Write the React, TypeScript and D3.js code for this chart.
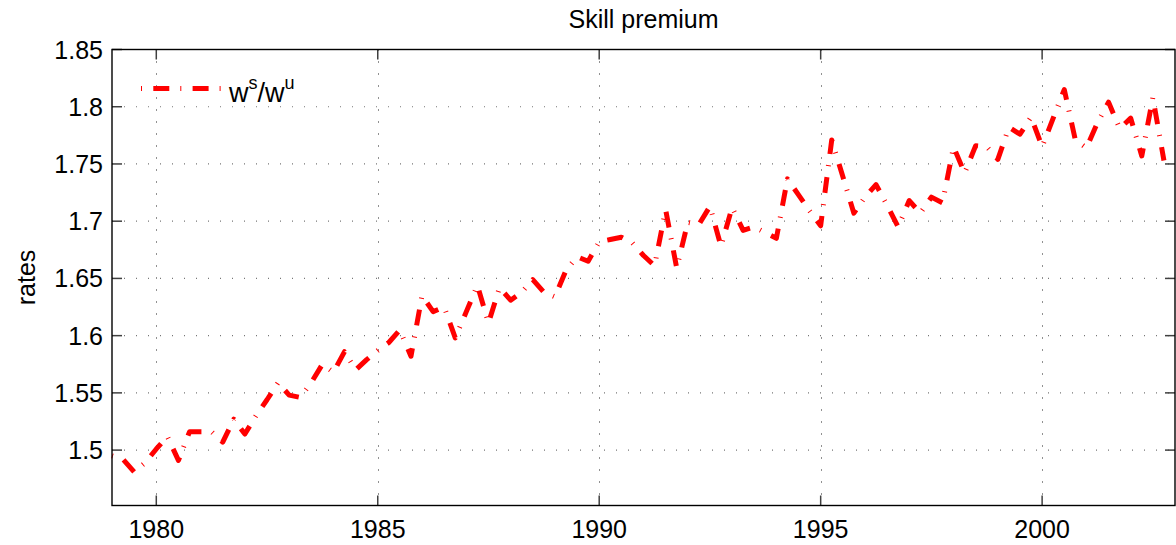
import React from "react";
import * as d3 from "d3";

// quarterly observations, 1979Q1 .. 2002Q4
const startYear = 1979;
const premium = [
	1.495, 1.492, 1.481, 1.489, 1.501, 1.512, 1.491, 1.516,
	1.516, 1.516, 1.507, 1.527, 1.514, 1.530, 1.544, 1.559,
	1.548, 1.546, 1.559, 1.575, 1.568, 1.586, 1.570, 1.579,
	1.587, 1.594, 1.605, 1.582, 1.635, 1.621, 1.625, 1.598,
	1.621, 1.644, 1.611, 1.642, 1.631, 1.638, 1.649, 1.638,
	1.634, 1.657, 1.669, 1.665, 1.682, 1.684, 1.686, 1.681,
	1.670, 1.661, 1.710, 1.659, 1.699, 1.697, 1.713, 1.678,
	1.712, 1.692, 1.695, 1.690, 1.685, 1.737, 1.723, 1.709,
	1.696, 1.771, 1.739, 1.707, 1.721, 1.732, 1.714, 1.695,
	1.718, 1.707, 1.721, 1.716, 1.765, 1.742, 1.766, 1.765,
	1.754, 1.782, 1.776, 1.791, 1.765, 1.790, 1.815, 1.771,
	1.764, 1.786, 1.804, 1.781, 1.790, 1.757, 1.808, 1.753,
];
const xTicks = [1980, 1985, 1990, 1995, 2000];
const yTicks = [1.5, 1.55, 1.6, 1.65, 1.7, 1.75, 1.8, 1.85];
const yTickLabels = ["1.5", "1.55", "1.6", "1.65", "1.7", "1.75", "1.8", "1.85"];

const W = 1176;
const H = 545;
const plot = { left: 112, right: 1175, top: 49.5, bottom: 505.5 };
const font = "'Liberation Sans', Arial, Helvetica, sans-serif";
const dash = "1 11.3 16 11";

export default function App() {
	// bottom limit sits just under 1.45, so no label is drawn there
	const x = d3.scaleLinear().domain([1979, 2003]).range([plot.left, plot.right]);
	const y = d3.scaleLinear().domain([1.4516, 1.85]).range([plot.bottom, plot.top]);

	const points = premium.map((v, i) => [startYear + i / 4, v] as [number, number]);
	const line = d3
		.line<[number, number]>()
		.x((d) => x(d[0]))
		.y((d) => y(d[1]));

	const tickLen = 10;

	return (
		<svg
			width={W}
			height={H}
			style={{ position: "absolute", left: 0, top: 0, background: "#fff" }}
			fontFamily={font}
		>
			<rect x={0} y={0} width={W} height={H} fill="#fff" />

			{/* grid */}
			{xTicks.map((t) => (
				<line
					key={"gx" + t}
					x1={Math.round(x(t)) + 0.5}
					x2={Math.round(x(t)) + 0.5}
					y1={plot.top}
					y2={plot.bottom}
					stroke="#222"
					strokeWidth={1}
					strokeDasharray="1 11"
				/>
			))}
			{yTicks.slice(0, -1).map((t) => (
				<line
					key={"gy" + t}
					x1={plot.left}
					x2={plot.right}
					y1={y(t)}
					y2={y(t)}
					stroke="#777"
					strokeWidth={1.2}
					strokeDasharray="1 11"
				/>
			))}

			{/* series */}
			<path
				d={line(points) ?? ""}
				fill="none"
				stroke="#ff0000"
				strokeWidth={5}
				strokeDasharray={dash}
				strokeLinecap="butt"
				strokeLinejoin="round"
			/>

			{/* ticks */}
			{yTicks.map((t) => (
				<g key={"ty" + t} stroke="#404040" strokeWidth={1.5}>
					<line x1={plot.left} x2={plot.left + tickLen} y1={y(t)} y2={y(t)} />
					<line x1={plot.right} x2={plot.right - tickLen} y1={y(t)} y2={y(t)} />
				</g>
			))}
			{xTicks.map((t) => (
				<g key={"tx" + t} stroke="#404040" strokeWidth={1.5}>
					<line x1={x(t)} x2={x(t)} y1={plot.bottom} y2={plot.bottom - tickLen} />
					<line x1={x(t)} x2={x(t)} y1={plot.top} y2={plot.top + tickLen} />
				</g>
			))}

			{/* frame */}
			<rect
				x={plot.left}
				y={plot.top}
				width={plot.right - plot.left}
				height={plot.bottom - plot.top}
				fill="none"
				stroke="#000"
				strokeWidth={1.4}
			/>

			{/* tick labels */}
			{yTicks.map((t, i) => (
				<text key={"ly" + t} x={103} y={y(t) + 9} textAnchor="end" fontSize={25} fill="#000">
					{yTickLabels[i]}
				</text>
			))}
			{xTicks.map((t) => (
				<text key={"lx" + t} x={x(t)} y={538} textAnchor="middle" fontSize={25} fill="#000">
					{t}
				</text>
			))}

			{/* title & axis label */}
			<text x={(plot.left + plot.right) / 2} y={28} textAnchor="middle" fontSize={25} fill="#000">
				Skill premium
			</text>
			<text
				transform={`translate(35,${(plot.top + plot.bottom) / 2}) rotate(-90)`}
				textAnchor="middle"
				fontSize={25}
				fill="#000"
			>
				rates
			</text>

			{/* legend */}
			<line
				x1={141}
				x2={221}
				y1={88.5}
				y2={88.5}
				stroke="#ff0000"
				strokeWidth={5}
				strokeDasharray={dash}
			/>
			<text x={229} y={101.5} fontSize={27} fill="#000">
				w
				<tspan fontSize={18} dy={-13}>s</tspan>
				<tspan fontSize={27} dy={13}>/w</tspan>
				<tspan fontSize={18} dy={-13}>u</tspan>
			</text>
		</svg>
	);
}
